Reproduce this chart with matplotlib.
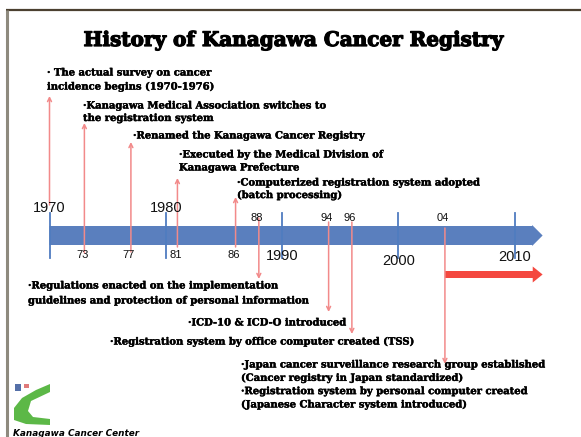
import matplotlib
matplotlib.use("Agg")
import matplotlib.pyplot as plt
from matplotlib.patches import Polygon, FancyArrow, Rectangle
import matplotlib.patheffects as pe

# ---------------- data ----------------
title = "History of Kanagawa Cancer Registry"
decade_years = [1970, 1980, 1990, 2000, 2010]
decade_labels = ["1970", "1980", "1990", "2000", "2010"]
event_years = [1970, 1973, 1977, 1981, 1986, 1988, 1994, 1996, 2004]
event_labels = ["", "73", "77", "81", "86", "88", "94", "96", "04"]
event_texts = [
    ["· The actual survey on cancer", "incidence begins (1970-1976)"],
    ["·Kanagawa Medical Association switches to", "the registration system"],
    ["·Renamed the Kanagawa Cancer Registry"],
    ["·Executed by the Medical Division of", "Kanagawa Prefecture"],
    ["·Computerized registration system adopted", "(batch processing)"],
    ["·Regulations enacted on the implementation",
     "guidelines and protection of personal information"],
    ["·ICD-10 & ICD-O introduced"],
    ["·Registration system by office computer created (TSS)"],
    ["·Japan cancer surveillance research group established",
     "(Cancer registry in Japan standardized)",
     "·Registration system by personal computer created",
     "(Japanese Character system introduced)"],
]
timeline_end = 2012.4
footer = "Kanagawa Cancer Center"

# ---------------- layout (pixels) ----------------
W, H = 581, 437
px_per_year = 11.63
x0_px = 49.5
band_top, band_bot = 226, 245
tick_top, tick_bot = 213, 258
# arrow (tail_y, tip_y) per event
arrow_y = [(205, 96), (253, 123), (252, 142), (247, 178), (247, 197),
           (218, 279), (222, 312), (222, 334), (228, 364)]
minor_label_y = [None, 255, 255, 255, 255, 218, 218, 218, 218]
decade_label_y = [208, 208, 256, 261, 257]
text_pos = [(47, 73), (83, 106), (133, 136), (179, 155), (237, 183),
            (28, 286), (188, 323), (110, 342), (241, 365)]
line_step = [14, 12.5, 13, 13, 12.5, 15, 13, 13, 13.3]

fig = plt.figure(figsize=(W / 100, H / 100), dpi=100)
ax = fig.add_axes([0, 0, 1, 1])
ax.set_xlim(1970 - x0_px / px_per_year, 1970 + (W - x0_px) / px_per_year)
ax.set_ylim(H, 0)
ax.axis("off")
px = fig.add_axes([0, 0, 1, 1], facecolor="none")
px.set_xlim(0, W)
px.set_ylim(H, 0)
px.axis("off")

serif = "DejaVu Serif"
sans = "Liberation Sans"

# border
px.plot([6, W], [10, 10], color="#4B4030", lw=1.6, solid_capstyle="butt")
px.plot([7, 7], [10, H], color="#8E8A7E", lw=2.2, solid_capstyle="butt")

# title
px.text(294, 40, title, ha="center", va="center", fontsize=14.4,
        fontweight="heavy", family=serif,
        path_effects=[pe.withStroke(linewidth=0.9, foreground="black")])

# timeline band (pentagon arrow)
head_start = timeline_end - 0.9
yr = 1.0 / px_per_year
band = Polygon([(1970, band_top), (head_start, band_top), (head_start, band_top - 1),
                (timeline_end, (band_top + band_bot) / 2),
                (head_start, band_bot + 1), (head_start, band_bot), (1970, band_bot)],
               closed=True, facecolor="#5A7FBE", edgecolor="none", zorder=2)
ax.add_patch(band)

# decade ticks and labels
for yv, lab, ly in zip(decade_years, decade_labels, decade_label_y):
    ax.plot([yv, yv], [tick_top, tick_bot], color="#4F7CC0", lw=1.3, zorder=3)
    ax.text(yv, ly, lab, ha="center", va="center", fontsize=10.5, family=sans,
            color="#111111", zorder=5)

# event arrows
for yv, (ty, hy) in zip(event_years, arrow_y):
    ax.annotate("", xy=(yv, hy), xytext=(yv, ty),
                arrowprops=dict(arrowstyle="->", color="#F28A8A", lw=1.1,
                                shrinkA=0, shrinkB=0, mutation_scale=7),
                zorder=4)

for yv, lab, ly in zip(event_years, event_labels, minor_label_y):
    if lab:
        ax.text(yv - 2 * yr, ly, lab, ha="center", va="center", fontsize=8,
                family=sans, color="#111111", zorder=5)

# red "ongoing" arrow from last event
last = event_years[-1]
ax.add_patch(FancyArrow(last, 274.5, timeline_end - last, 0, width=7,
                        head_width=16, head_length=0.85,
                        length_includes_head=True, facecolor="#F4483F",
                        edgecolor="none", zorder=3))

# event texts
for lines, (tx, ty), step in zip(event_texts, text_pos, line_step):
    for i, ln in enumerate(lines):
        px.text(tx, ty + i * step, ln, ha="left", va="center", fontsize=7.2,
                fontweight="bold", family=serif, color="#000000",
                path_effects=[pe.withStroke(linewidth=0.3, foreground="black")])

# logo
px.add_patch(Polygon([(50, 384), (36, 390), (22, 398), (14, 408), (14, 420),
                      (26, 424), (50, 425), (50, 419), (33, 417), (28, 411),
                      (31, 401), (50, 392)], closed=True,
                     facecolor="#5CB847", edgecolor="none"))
px.add_patch(Rectangle((15, 384), 6, 7, facecolor="#5570A8", edgecolor="none"))
px.add_patch(Rectangle((24, 384), 5, 4, facecolor="#E07A7A", edgecolor="none"))
px.text(13, 433, footer, ha="left", va="center", fontsize=6.4,
        fontweight="bold", fontstyle="italic", family="DejaVu Sans")

fig.savefig("out.png", dpi=100)
